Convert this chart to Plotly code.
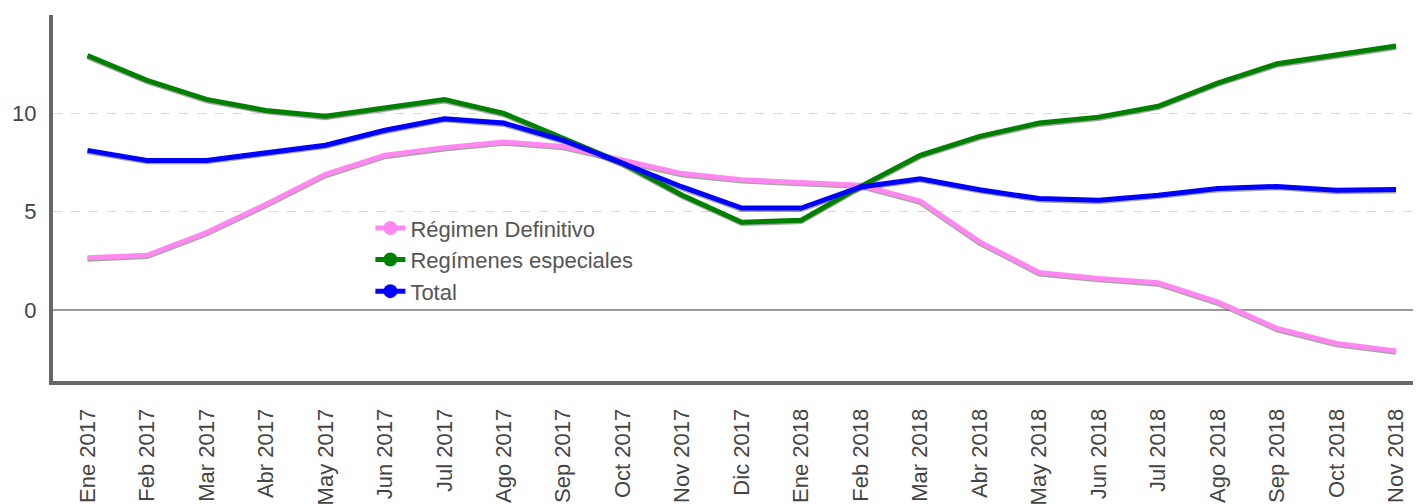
import plotly.graph_objects as go

months = ["Ene 2017", "Feb 2017", "Mar 2017", "Abr 2017", "May 2017", "Jun 2017",
          "Jul 2017", "Ago 2017", "Sep 2017", "Oct 2017", "Nov 2017", "Dic 2017",
          "Ene 2018", "Feb 2018", "Mar 2018", "Abr 2018", "May 2018", "Jun 2018",
          "Jul 2018", "Ago 2018", "Sep 2018", "Oct 2018", "Nov 2018"]

regimen_definitivo = [2.66, 2.79, 3.94, 5.38, 6.90, 7.87, 8.26, 8.55, 8.32, 7.61, 6.94, 6.63,
                      6.46, 6.35, 5.55, 3.47, 1.91, 1.61, 1.39, 0.42, -0.93, -1.69, -2.07]
regimenes_especiales = [12.94, 11.68, 10.71, 10.15, 9.85, 10.30, 10.70, 10.00, 8.73, 7.46, 5.84, 4.47,
                        4.57, 6.29, 7.87, 8.83, 9.51, 9.81, 10.36, 11.54, 12.52, 12.99, 13.42]
total = [8.12, 7.61, 7.61, 7.98, 8.38, 9.14, 9.73, 9.51, 8.63, 7.46, 6.26, 5.19,
         5.19, 6.26, 6.68, 6.12, 5.67, 5.58, 5.84, 6.18, 6.29, 6.09, 6.13]

y_ticks = [0, 5, 10]

series = [
    ("Régimen Definitivo", regimen_definitivo, "#ff88f0"),
    ("Regímenes especiales", regimenes_especiales, "#008000"),
    ("Total", total, "#0000ff"),
]

FONT = "Arial, Liberation Sans, sans-serif"
xs = list(range(len(months)))

fig = go.Figure()
for name, vals, color in series:
    # subtle drop shadow
    fig.add_trace(go.Scatter(x=xs, y=[v - 0.07 for v in vals], mode="lines",
                             line=dict(color="rgba(90,90,90,0.55)", width=5),
                             showlegend=False, hoverinfo="skip"))
for name, vals, color in series:
    fig.add_trace(go.Scatter(x=xs, y=vals, mode="lines", name=name,
                             line=dict(color=color, width=5), showlegend=False))
for name, vals, color in series:
    fig.add_trace(go.Scatter(x=[None], y=[None], mode="lines+markers", name=name,
                             line=dict(color=color, width=5),
                             marker=dict(color=color, size=14)))

fig.update_layout(
    width=1413, height=496,
    margin=dict(l=45, r=0, t=7, b=123, autoexpand=False),
    paper_bgcolor="white", plot_bgcolor="white",
    font=dict(family=FONT, size=22, color="#444"),
    legend=dict(x=0.232, y=0.475, xanchor="left", yanchor="top",
                bgcolor="rgba(0,0,0,0)", font=dict(size=22, color="#555"),
                itemwidth=30, tracegroupgap=0),
    xaxis=dict(range=[-0.58, 22.42], tickmode="array", tickvals=xs, ticktext=months,
               tickangle=-90, showgrid=False, zeroline=False,
               showline=True, linecolor="#666", linewidth=4,
               ticks="", ticklabelstandoff=15, automargin=False,
               tickfont=dict(size=22, color="#444")),
    yaxis=dict(range=[-3.6, 15], tickmode="array", tickvals=y_ticks,
               showgrid=True, gridcolor="#d9d9d9", griddash="dash", gridwidth=1,
               zeroline=True, zerolinecolor="#999", zerolinewidth=1.5,
               showline=True, linecolor="#666", linewidth=4,
               ticks="", ticklabelstandoff=8, automargin=False,
               tickfont=dict(size=22, color="#444")),
)

fig.write_html("out.html")
